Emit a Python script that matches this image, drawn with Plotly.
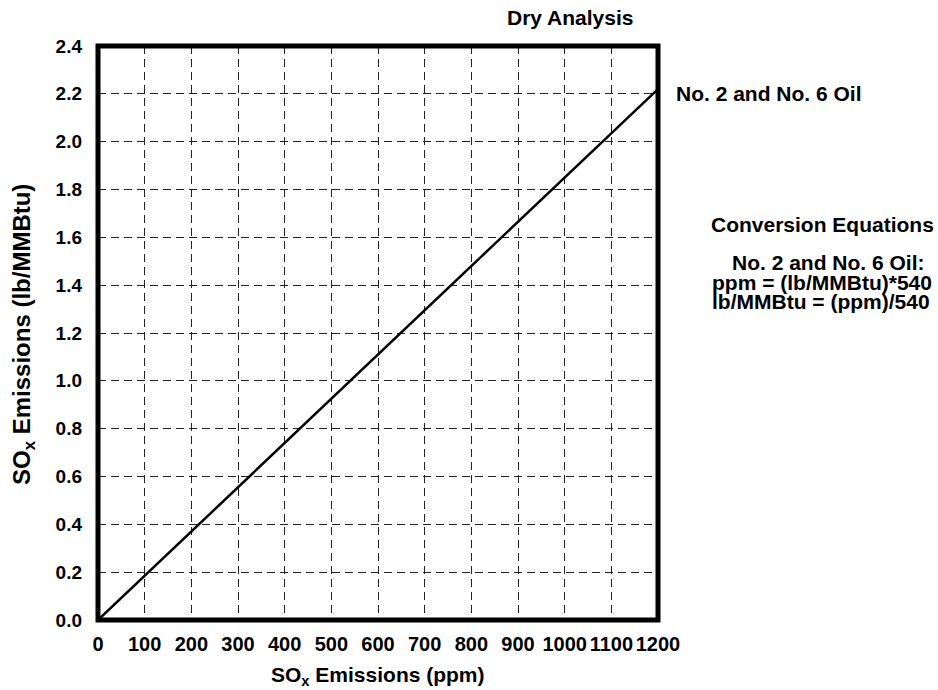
import plotly.graph_objects as go

# Data
ppm = [0, 1200]
lb_mmbtu = [0.0, 2.22]
x_ticks = [0, 100, 200, 300, 400, 500, 600, 700, 800, 900, 1000, 1100, 1200]
y_ticks = [0.0, 0.2, 0.4, 0.6, 0.8, 1.0, 1.2, 1.4, 1.6, 1.8, 2.0, 2.2, 2.4]
series_label = "No. 2 and No. 6 Oil"
eq_title = "Conversion Equations"
eq_lines = ["No. 2 and No. 6 Oil:", "ppm = (lb/MMBtu)*540", "lb/MMBtu = (ppm)/540"]

FONT = "Liberation Sans, Arial, Helvetica, sans-serif"
W, H = 938, 690
L, R, T, B = 98, 280, 46, 70
PW, PH = W - L - R, H - T - B

def px_to_paper_x(px):
    return (px - L) / PW

def px_to_paper_y(py):
    return (H - B - py) / PH

fig = go.Figure()
fig.add_trace(go.Scatter(x=ppm, y=lb_mmbtu, mode="lines",
                         line=dict(color="black", width=2.5),
                         showlegend=False, hoverinfo="skip", cliponaxis=False))

axis_common = dict(showgrid=True, gridcolor="#222222", gridwidth=1, griddash="8px,5px",
                   zeroline=False, showline=False, ticks="")

fig.update_xaxes(range=[0, 1200], tickvals=x_ticks, ticktext=[str(v) for v in x_ticks],
                 ticklabelstandoff=10,
                 tickfont=dict(family=FONT, size=20, color="black", weight="bold"),
                 **axis_common)
fig.update_yaxes(range=[0, 2.4], tickvals=y_ticks, ticktext=[f"{v:.1f}" for v in y_ticks],
                 ticklabelstandoff=15,
                 tickfont=dict(family=FONT, size=19, color="black", weight="bold"),
                 **axis_common)

fig.add_shape(type="rect", xref="paper", yref="paper", x0=0, x1=1, y0=0, y1=1,
              line=dict(color="black", width=5), layer="above")

def ann(text, x, y, xanchor="center", yanchor="middle", size=21, angle=0, xref="paper", yref="paper", xshift=0):
    fig.add_annotation(text=text, x=x, y=y, xref=xref, yref=yref, xanchor=xanchor, yanchor=yanchor,
                       showarrow=False, textangle=angle, xshift=xshift,
                       font=dict(family=FONT, size=size, color="black", weight="bold"))

ann("SO<sub>x</sub> Emissions (ppm)", 0.5, px_to_paper_y(661), yanchor="top")
ann("SO<sub>x</sub> Emissions (lb/MMBtu)", px_to_paper_x(23), px_to_paper_y(335), angle=-90, size=24)
ann("Dry Analysis", px_to_paper_x(570), px_to_paper_y(17))
ann(series_label, ppm[-1], 2.2, xanchor="left", xref="x", yref="y", xshift=16)
ann(eq_title, px_to_paper_x(822), px_to_paper_y(224))
ann(eq_lines[0], px_to_paper_x(828), px_to_paper_y(262))
ann(eq_lines[1], px_to_paper_x(822), px_to_paper_y(282))
ann(eq_lines[2], px_to_paper_x(821), px_to_paper_y(301))

fig.update_layout(width=W, height=H, margin=dict(l=L, r=R, t=T, b=B, autoexpand=False),
                  paper_bgcolor="white", plot_bgcolor="white",
                  font=dict(family=FONT, color="black"))

fig.write_html("out.html")
